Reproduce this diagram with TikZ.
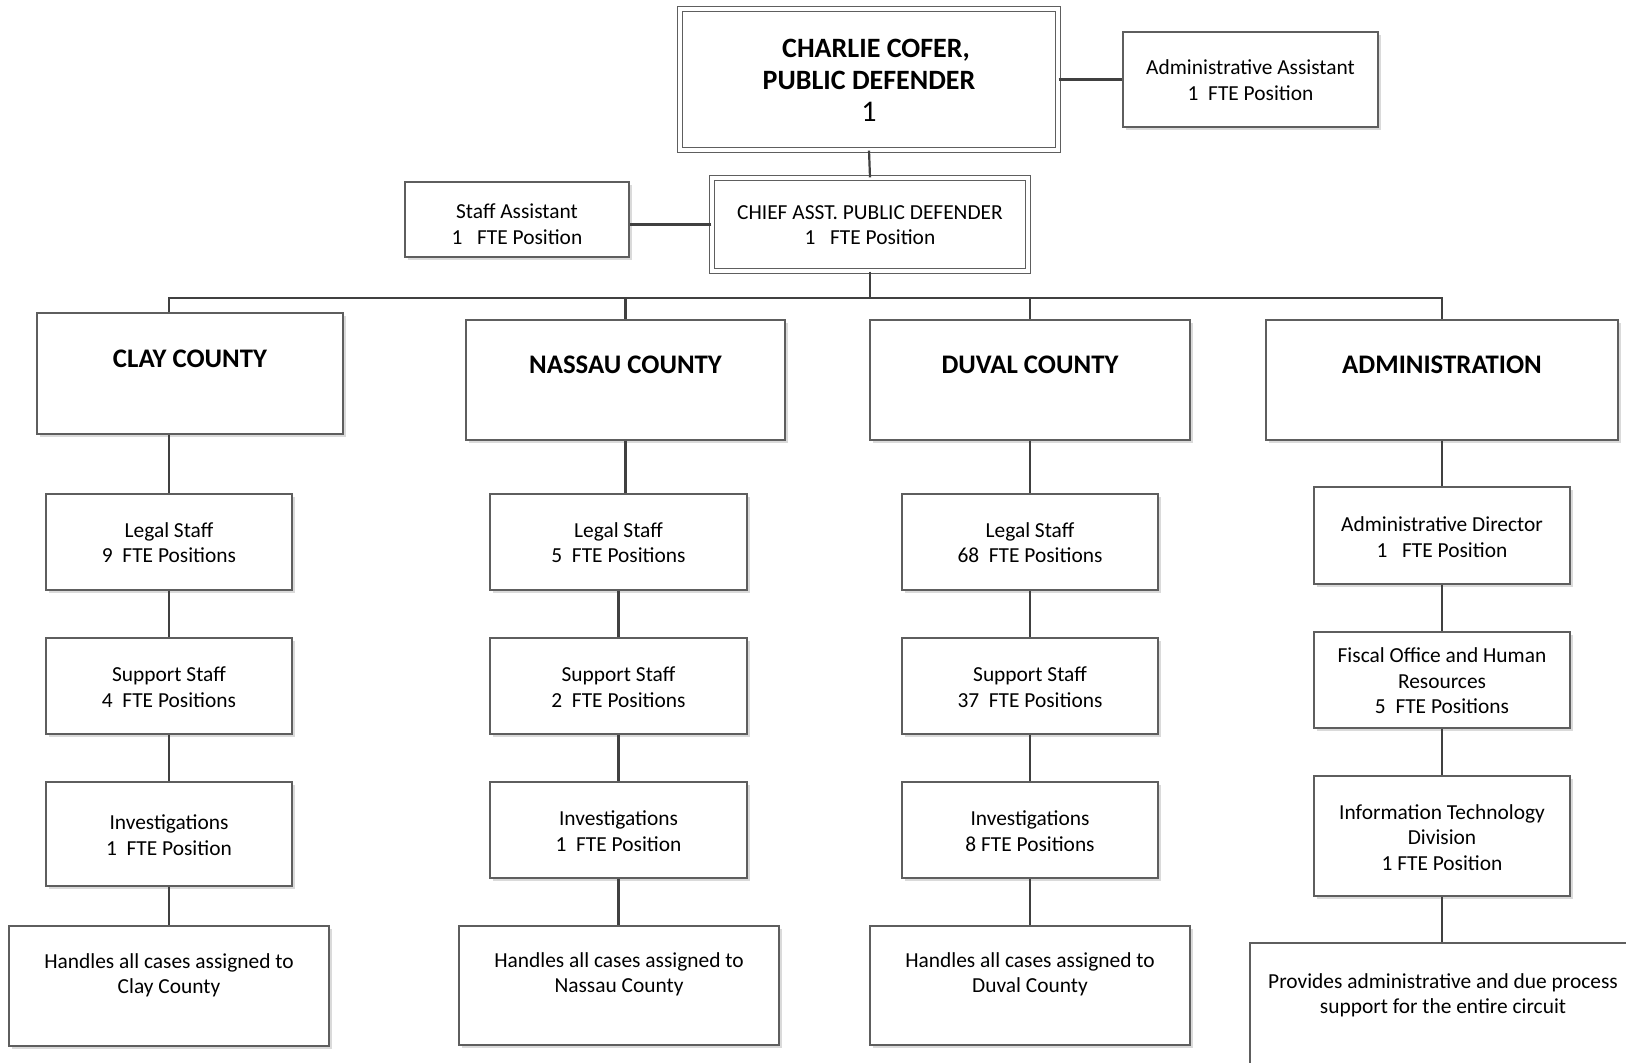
\documentclass[tikz,border=0pt]{standalone}
\usepackage{fontspec}
\setmainfont{Carlito}
\usetikzlibrary{shadows}

\definecolor{boxline}{HTML}{5E5E5E}
\definecolor{wirecol}{HTML}{404040}
\definecolor{shadecol}{HTML}{DADADA}

\tikzset{
  box/.style={draw=boxline, line width=0.65pt, fill=white, inner sep=0pt,
    drop shadow={shadow xshift=1.6pt, shadow yshift=-1.6pt, fill=shadecol, opacity=1}},
  dbox/.style={box, double=white, double distance=1.6pt, line width=0.55pt},
  txt/.style={align=center, inner sep=0pt, font=\fontsize{10.7}{12.7}\selectfont},
  head/.style={align=center, inner sep=0pt, font=\fontsize{13.4}{15}\selectfont\bfseries},
  toptxt/.style={align=center, inner sep=0pt, font=\fontsize{14}{16}\selectfont\bfseries},
  wire/.style={draw=wirecol, line width=1.1pt},
}

% \orgbox[box style]{name}{x1}{y1}{x2}{y2}{text centre y}{text}{text style}
% coordinates are in pixels, y pointing down
\newcommand\orgbox[9][box]{%
  \pgfmathsetmacro\obcx{(#3+#5)/2}%
  \pgfmathsetmacro\obcy{(#4+#6)/2}%
  \pgfmathsetmacro\obw{(#5-#3)*0.5}%
  \pgfmathsetmacro\obh{(#6-#4)*0.5}%
  \node[#1, minimum width=\obw pt, minimum height=\obh pt] (#2) at (\obcx,\obcy) {};
  \node[#9] (#2-t) at (\obcx,#7) {#8};
}

\begin{document}
\begin{tikzpicture}[x=0.5pt, y=-0.5pt]
\useasboundingbox (0,0) rectangle (1626,1062);
\fill[white] (0,0) rectangle (1626,1062);

% top of the office
\orgbox[dbox]{pd}{680}{9}{1058}{150}{80}{\hspace*{7pt}CHARLIE COFER,\\PUBLIC DEFENDER\\{\mdseries\fontsize{15}{16}\selectfont 1}}{toptxt}
\orgbox{aa}{1123}{32}{1378}{127}{80}{Administrative Assistant\\1~~FTE Position}{txt}
\orgbox[dbox]{cap}{712}{178}{1028}{271}{225}{CHIEF ASST. PUBLIC DEFENDER\\1~~~FTE Position}{txt}
\orgbox{sa}{405}{182}{629}{257}{224}{Staff Assistant\\1~~~FTE Position}{txt}

% divisions
\orgbox{clay}{37}{313}{343}{434}{359}{CLAY COUNTY}{head}
\orgbox{nas}{466}{320}{785}{440}{365}{NASSAU COUNTY}{head}
\orgbox{duv}{870}{320}{1190}{440}{365}{DUVAL COUNTY}{head}
\orgbox{adm}{1266}{320}{1618}{440}{365}{ADMINISTRATION}{head}

% Clay County
\orgbox{clayL}{46}{494}{292}{590}{542.5}{Legal Staff\\9~~FTE Positions}{txt}
\orgbox{clayS}{46}{638}{292}{734}{687}{Support Staff\\4~~FTE Positions}{txt}
\orgbox{clayI}{46}{782}{292}{886}{835}{Investigations\\1~~FTE Position}{txt}
\orgbox{clayX}{9}{926}{329}{1046}{975}{Handles all cases assigned to\\Clay County}{txt}

% Nassau County
\orgbox{nasL}{490}{494}{747}{590}{542.5}{Legal Staff\\5~~FTE Positions}{txt}
\orgbox{nasS}{490}{638}{747}{734}{687}{Support Staff\\2~~FTE Positions}{txt}
\orgbox{nasI}{490}{782}{747}{878}{831}{Investigations\\1~~FTE Position}{txt}
\orgbox{nasX}{459}{926}{779}{1045}{974}{Handles all cases assigned to\\Nassau County}{txt}

% Duval County
\orgbox{duvL}{902}{494}{1158}{590}{542.5}{Legal Staff\\68~~FTE Positions}{txt}
\orgbox{duvS}{902}{638}{1158}{734}{687}{Support Staff\\37~~FTE Positions}{txt}
\orgbox{duvI}{902}{782}{1158}{878}{831}{Investigations\\8~FTE Positions}{txt}
\orgbox{duvX}{870}{926}{1190}{1045}{974}{Handles all cases assigned to\\Duval County}{txt}

% Administration
\orgbox{admD}{1314}{487}{1570}{584}{537}{Administrative Director\\1~~~FTE Position}{txt}
\orgbox{admF}{1314}{632}{1570}{728}{681}{Fiscal Office and Human\\Resources\\5~~FTE Positions}{txt}
\orgbox{admI}{1314}{776}{1570}{896}{837.5}{Information Technology\\Division\\1 FTE Position}{txt}
\orgbox{admX}{1250}{943}{1636}{1080}{995}{Provides administrative and due process\\support for the entire circuit}{txt}

% reporting lines
\coordinate (bus) at (870,298);
\draw[wire] (pd.south) -- (cap.north);
\draw[wire] (pd.east) -- (aa.west);
\draw[wire] (cap.west) -- (cap.west -| sa.east);
\draw[wire] (cap.south) -- (bus);
\draw[wire] (clayL.north |- clay.north) |- (bus) -| (adm.north);
\draw[wire] (nas.north) -- (nas.north |- bus);
\draw[wire] (duv.north) -- (duv.north |- bus);

\draw[wire] (clayL.north |- clay.south) -- (clayL.north);
\draw[wire] (clayL.south) -- (clayS.north);
\draw[wire] (clayS.south) -- (clayI.north);
\draw[wire] (clayI.south) -- (clayX.north -| clayI.south);

\draw[wire] (nas.south) -- (nas.south |- nasL.north);
\draw[wire] (nasL.south) -- (nasS.north);
\draw[wire] (nasS.south) -- (nasI.north);
\draw[wire] (nasI.south) -- (nasX.north -| nasI.south);

\draw[wire] (duv.south) -- (duvL.north);
\draw[wire] (duvL.south) -- (duvS.north);
\draw[wire] (duvS.south) -- (duvI.north);
\draw[wire] (duvI.south) -- (duvX.north);

\draw[wire] (adm.south) -- (admD.north);
\draw[wire] (admD.south) -- (admF.north);
\draw[wire] (admF.south) -- (admI.north);
\draw[wire] (admI.south) -- (admX.north -| admI.south);
\end{tikzpicture}
\end{document}
